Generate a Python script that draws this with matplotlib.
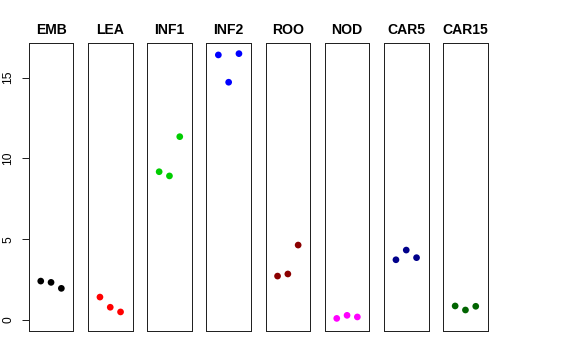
import numpy as np
import matplotlib.pyplot as plt

plt.rcParams['font.family'] = ['Liberation Sans', 'DejaVu Sans']

tissues = ['EMB', 'LEA', 'INF1', 'INF2', 'ROO', 'NOD', 'CAR5', 'CAR15']
colors = ['black', 'red', '#00CD00', 'blue', '#8B0000', 'magenta', '#00008B', '#006400']
values = [
    [2.41, 2.33, 1.96],
    [1.42, 0.79, 0.50],
    [9.18, 8.92, 11.35],
    [16.41, 14.72, 16.49],
    [2.72, 2.85, 4.64],
    [0.10, 0.29, 0.19],
    [3.73, 4.33, 3.86],
    [0.87, 0.62, 0.85],
]
yticks = [0, 5, 10, 15]
ylim = (-0.68, 17.13)

W, H = 576, 360
fig = plt.figure(figsize=(W / 72, H / 72), dpi=72)

for i, (name, col, vals) in enumerate(zip(tissues, colors, values)):
    left = 28.7 + 59.2 * i
    ax = fig.add_axes([left / W, 29 / H, 44.7 / W, 287.7 / H])
    x = np.arange(1, len(vals) + 1)
    ax.scatter(x, vals, s=45, color=col, edgecolors='none', zorder=3)
    ax.set_xlim(2 - 2.17, 2 + 2.17)
    ax.set_ylim(*ylim)
    ax.set_xticks([])
    for sp in ax.spines.values():
        sp.set_linewidth(1)
        sp.set_color('#222222')
    ax.set_title(name, fontsize=14, fontweight='bold', pad=9)
    if i == 0:
        ax.set_yticks(yticks)
        ax.tick_params(axis='y', length=7.5, width=1, pad=7, labelsize=12,
                       labelrotation=90, color='#222222')
        for lab in ax.get_yticklabels():
            lab.set_va('center')
    else:
        ax.set_yticks([])

fig.savefig('out.png', dpi=72)
